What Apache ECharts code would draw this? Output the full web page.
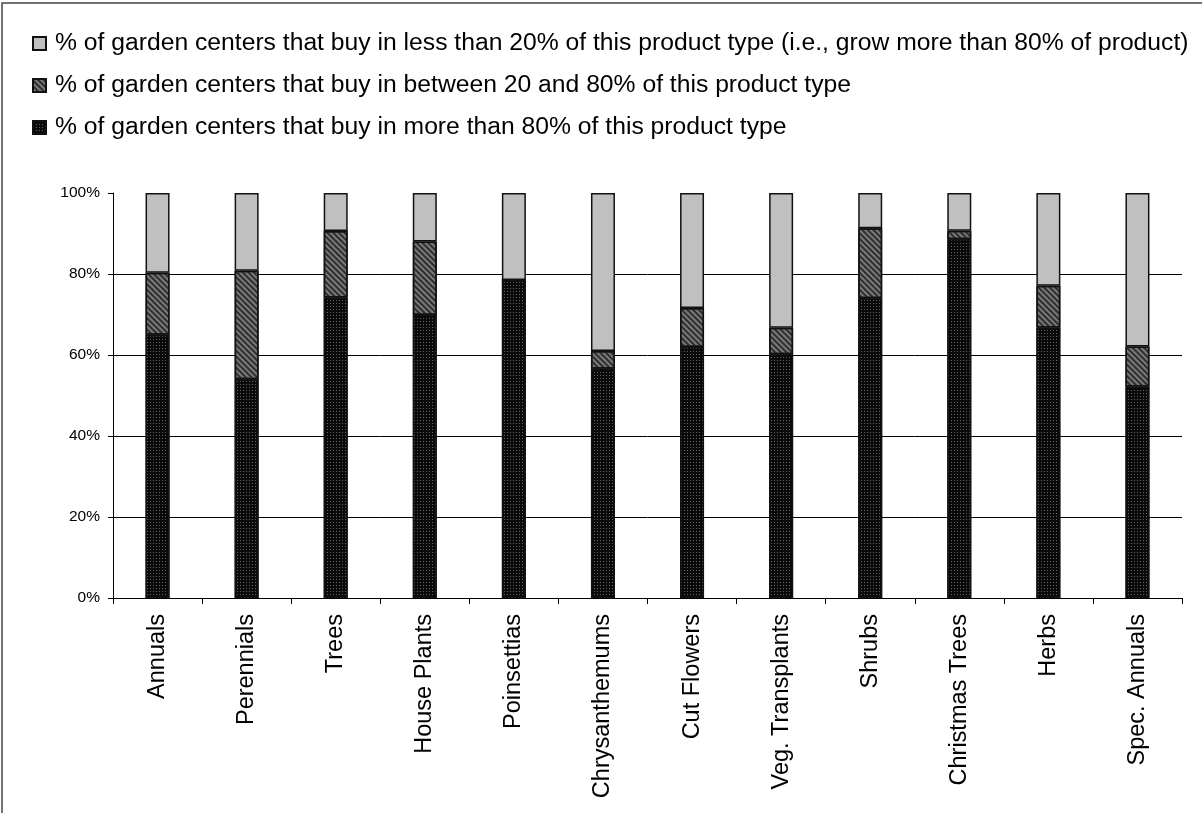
<!DOCTYPE html>
<html>
<head>
<meta charset="utf-8">
<script src="https://cdn.jsdelivr.net/npm/echarts@6/dist/echarts.min.js"></script>
<style>
html,body{margin:0;padding:0;background:#fff;}
#chart{width:1202px;height:813px;}
</style>
</head>
<body>
<div id="chart"></div>
<script>
var categories = ["Annuals","Perennials","Trees","House Plants","Poinsettias","Chrysanthemums","Cut Flowers","Veg. Transplants","Shrubs","Christmas Trees","Herbs","Spec. Annuals"];
var buyMoreThan80 = [65, 54, 74.2, 69.9, 78.5, 56.6, 62, 60.2, 74, 88.6, 66.8, 52.2];
var buyBetween20and80 = [15.3, 26.8, 16.4, 18.1, 0, 4.4, 9.6, 6.5, 17.3, 2.1, 10.3, 9.9];
var buyLessThan20 = [19.7, 19.2, 9.4, 12, 21.5, 39, 28.4, 33.3, 8.7, 9.3, 22.9, 37.9];
var seriesNames = [
  "% of garden centers that buy in less than 20% of this product type (i.e., grow more than 80% of product)",
  "% of garden centers that buy in between 20 and 80% of this product type",
  "% of garden centers that buy in more than 80% of this product type"
];
var yTicks = [0, 20, 40, 60, 80, 100];

var FONT = "'Liberation Sans', Arial, sans-serif";
var chart = echarts.init(document.getElementById('chart'), null, {renderer:'canvas'});
var option = {
  animation: false,
  backgroundColor: '#fff',
  graphic: [{
    type: 'rect', silent: true, z: 100,
    shape: {x: 2, y: 3, width: 1300, height: 900},
    style: {fill: 'none', stroke: '#444', lineWidth: 1.5}
  }],
  legend: {
    orient: 'vertical',
    left: 27, top: 26,
    icon: 'rect',
    itemWidth: 13, itemHeight: 13,
    itemGap: 17,
    data: [seriesNames[0], seriesNames[1], seriesNames[2]],
    textStyle: {fontFamily: FONT, fontSize: 24.7, color: '#000', lineHeight: 24, padding: [0,0,0,4]}
  },
  grid: {left: 113, right: 20, top: 193, bottom: 215, containLabel: false},
  xAxis: {
    type: 'category',
    data: categories,
    axisLine: {lineStyle: {color: '#000', width: 1}},
    axisTick: {show: true, length: 6, lineStyle: {color: '#000'}},
    axisLabel: {rotate: 90, fontFamily: FONT, fontSize: 23.5, color: '#000', margin: 16, interval: 0},
    splitLine: {show: false}
  },
  yAxis: {
    type: 'value',
    min: yTicks[0], max: yTicks[yTicks.length-1], interval: 20,
    axisLine: {show: true, lineStyle: {color: '#000', width: 1}},
    axisTick: {show: true, length: 5, lineStyle: {color: '#000'}},
    axisLabel: {fontFamily: FONT, fontSize: 15.5, color: '#000', margin: 13, formatter: '{value}%'},
    splitLine: {show: true, lineStyle: {color: ['rgba(0,0,0,0)', '#000', '#000', '#000', '#000', 'rgba(0,0,0,0)'], width: 1}}
  },
  series: [
    {
      name: seriesNames[2], type: 'bar', stack: 'total', barWidth: 24,
      data: buyMoreThan80,
      itemStyle: {
        color: '#0a0a0a', borderColor: '#111', borderWidth: 1.5,
        decal: {symbol: 'rect', symbolSize: 1, dashArrayX: [1, 2], dashArrayY: [1, 2], color: 'rgba(140,140,140,0.7)'}
      }
    },
    {
      name: seriesNames[1], type: 'bar', stack: 'total', barWidth: 24,
      data: buyBetween20and80,
      itemStyle: {
        color: '#7a7a7a', borderColor: '#111', borderWidth: 1.5,
        decal: {symbol: 'rect', symbolSize: 1, dashArrayX: [1, 0], dashArrayY: [2, 2], rotation: Math.PI / 4, color: '#2e2e2e'}
      }
    },
    {
      name: seriesNames[0], type: 'bar', stack: 'total', barWidth: 24,
      data: buyLessThan20,
      itemStyle: {color: '#c0c0c0', borderColor: '#111', borderWidth: 1.5}
    }
  ]
};
chart.setOption(option);
</script>
</body>
</html>
